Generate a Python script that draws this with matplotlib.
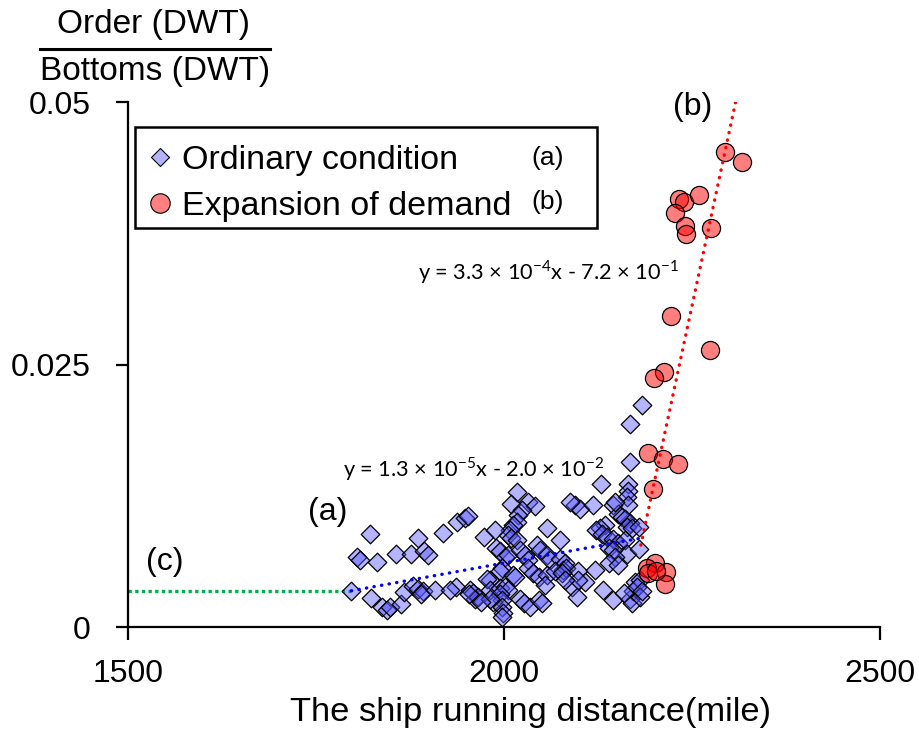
import matplotlib
matplotlib.use('Agg')
import matplotlib.pyplot as plt
from matplotlib.lines import Line2D
from matplotlib.patches import Rectangle

plt.rcParams['font.family'] = ['Liberation Sans', 'DejaVu Sans']

# ordinary condition (a)
ord_x = [1797, 1822, 1805, 1809, 1831, 1856, 1886, 1876, 1894, 1899, 1919, 1937, 1948, 1952,
         1823, 1838, 1844, 1849, 1863, 1867, 1879, 1886, 1892, 1890, 1908, 1936,
         2017, 2009, 2032, 2041, 2024, 2019, 2017, 2012, 2008, 2006, 2010, 2017, 1973, 1988,
         2057, 2075, 2044, 2048, 1990, 1995, 2001, 2006, 2021, 2028, 2032, 2057, 2061, 2075,
         2081, 2079, 1997, 1995, 2012, 2015, 2032, 2039, 2046, 2057, 2055, 1981, 1977, 1928,
         1955, 1959, 1962, 1966, 1953, 1981, 1995, 2001, 2006, 1995, 1997, 1986, 1981, 1997,
         1999, 2021, 2026, 2035, 2046, 2050, 1970, 1997,
         2184, 2168, 2167, 2129, 2165, 2165, 2163, 2165, 2094, 2101, 2119, 2145, 2152, 2157,
         2161, 2168, 2163, 2170, 2134, 2128, 2123, 2130, 2137, 2179, 2145, 2152, 2161, 2163,
         2179, 2139, 2145, 2148, 2083, 2099, 2121, 2139, 2152, 2090, 2108, 2097, 2132, 2145,
         2168, 2172, 2174, 2181, 2177, 2170, 2159, 2148, 2088, 2099, 2068, 2077, 2081, 2181,
         2183]
ord_y = [0.0034, 0.0089, 0.0067, 0.0064, 0.0062, 0.0070, 0.0085, 0.0070, 0.0072, 0.0069,
         0.0090, 0.0100, 0.0104, 0.0106,
         0.0028, 0.0019, 0.0016, 0.0019, 0.0022, 0.0033, 0.0039, 0.0036, 0.0034, 0.0031,
         0.0035, 0.0038,
         0.0129, 0.0117, 0.0119, 0.0115, 0.0111, 0.0107, 0.0100, 0.0097, 0.0092, 0.0088,
         0.0085, 0.0083, 0.0086, 0.0092, 0.0094, 0.0083, 0.0078, 0.0073, 0.0075, 0.0072,
         0.0067, 0.0069, 0.0073, 0.0069, 0.0064, 0.0069, 0.0064, 0.0065, 0.0061, 0.0054,
         0.0056, 0.0053, 0.0050, 0.0048, 0.0056, 0.0051, 0.0048, 0.0050, 0.0040, 0.0045,
         0.0046, 0.0035, 0.0035, 0.0032, 0.0027, 0.0029, 0.0031, 0.0035, 0.0037, 0.0038,
         0.0035, 0.0031, 0.0026, 0.0024, 0.0027, 0.0019, 0.0013, 0.0027, 0.0023, 0.0019,
         0.0026, 0.0023, 0.0024, 0.0010,
         0.0211, 0.0193, 0.0157, 0.0136, 0.0136, 0.0130, 0.0124, 0.0116, 0.0116, 0.0112,
         0.0116, 0.0116, 0.0108, 0.0105, 0.0103, 0.0099, 0.0095, 0.0094, 0.0097, 0.0094,
         0.0092, 0.0089, 0.0086, 0.0095, 0.0084, 0.0080, 0.0083, 0.0070, 0.0074, 0.0075,
         0.0073, 0.0067, 0.0056, 0.0053, 0.0054, 0.0061, 0.0059, 0.0038, 0.0043, 0.0029,
         0.0035, 0.0026, 0.0027, 0.0034, 0.0043, 0.0045, 0.0038, 0.0023, 0.0032, 0.0119,
         0.0119, 0.0045, 0.0053, 0.0051, 0.0045, 0.0029, 0.0034]

# expansion of demand (b)
exp_x = [2294, 2316, 2233, 2239, 2259, 2228, 2241, 2242, 2275, 2222, 2274, 2213, 2200,
         2191, 2212, 2231, 2198, 2201, 2190, 2191, 2215, 2214, 2202]
exp_y = [0.0452, 0.0443, 0.0408, 0.0405, 0.0411, 0.0394, 0.0382, 0.0374, 0.0380, 0.0296,
         0.0264, 0.0243, 0.0237, 0.0166, 0.0160, 0.0155, 0.0131, 0.0061, 0.0056, 0.0051,
         0.0052, 0.0041, 0.0053]

# trend lines as drawn
fit_a_x = [1797, 2181]
fit_a_y = [0.00345, 0.00845]
fit_b_x = [2182, 2308]
fit_b_y = [0.0078, 0.0500]
fit_c_x = [1500, 1797]
fit_c_y = [0.00345, 0.00345]

fig = plt.figure(figsize=(9.2, 7.33), dpi=100)
ax = fig.add_axes([0.1391, 0.1446, 0.8174, 0.7162])

ax.plot(fit_c_x, fit_c_y, color='#00b050', lw=2.4, ls=(0, (1, 1)), zorder=1)
ax.scatter(ord_x, ord_y, marker='D', s=90, facecolors=[(0.35, 0.35, 1.0, 0.45)],
           edgecolors='black', linewidths=0.9, zorder=2, clip_on=False)
ax.scatter(exp_x, exp_y, marker='o', s=170, facecolors=[(1.0, 0.0, 0.0, 0.5)],
           edgecolors='black', linewidths=0.9, zorder=3, clip_on=False)
ax.plot(fit_a_x, fit_a_y, color='#0000ff', lw=2.4, ls=(0, (0.1, 2.2)),
        dash_capstyle='round', zorder=4)
ax.plot(fit_b_x, fit_b_y, color='#ff0000', lw=2.4, ls=(0, (0.1, 2.2)),
        dash_capstyle='round', zorder=4)

ax.set_xlim(1500, 2500)
ax.set_ylim(0, 0.05)
ax.set_xticks([1500, 2000, 2500])
ax.set_yticks([0, 0.025, 0.05])
ax.set_yticklabels(['0', '0.025', '0.05'])
for s in ['top', 'right']:
    ax.spines[s].set_visible(False)
for s in ['left', 'bottom']:
    ax.spines[s].set_linewidth(1.6)
ax.tick_params(direction='out', length=9, width=1.6, labelsize=23)
ax.tick_params(axis='y', pad=18)
ax.tick_params(axis='x', pad=14)
ax.set_xlabel('The ship running distance(mile)', fontsize=24.8)
ax.xaxis.set_label_coords(0.535, -0.133)

# fraction-style y label
fig.text(0.167, 0.966, 'Order (DWT)', fontsize=24, ha='center', va='center')
fig.text(0.169, 0.902, 'Bottoms (DWT)', fontsize=24, ha='center', va='center')
fig.add_artist(Line2D([0.0435, 0.293], [0.933, 0.933], color='black', lw=2.2,
                      transform=fig.transFigure))

# legend with its own box
ax.add_patch(Rectangle((0.0093, 0.76), 0.614, 0.1924, transform=ax.transAxes,
                       facecolor='white', edgecolor='black', lw=1.8, zorder=5))
handles = [Line2D([], [], marker='D', ls='none', ms=9.5, markerfacecolor='#b3b3ff',
                  markeredgecolor='black', markeredgewidth=0.8),
           Line2D([], [], marker='o', ls='none', ms=14, markerfacecolor='#ff8080',
                  markeredgecolor='black', markeredgewidth=0.8)]
leg = ax.legend(handles, ['Ordinary condition', 'Expansion of demand'],
                loc='upper left', bbox_to_anchor=(0.009, 0.95),
                fontsize=24.5, frameon=False,
                handlelength=0.5, handletextpad=0.4, borderpad=0.5,
                labelspacing=0.42, borderaxespad=0)
leg.set_zorder(6)
ax.text(0.537, 0.893, '(a)', transform=ax.transAxes, fontsize=19, va='center', zorder=6)
ax.text(0.537, 0.8095, '(b)', transform=ax.transAxes, fontsize=19, va='center', zorder=6)

ax.text(1765, 0.0110, '(a)', fontsize=23, ha='center', va='center')
ax.text(2251, 0.0495, '(b)', fontsize=23, ha='center', va='center')
ax.text(1549, 0.0062, '(c)', fontsize=23, ha='center', va='center')

eq_font = ['Lato', 'DejaVu Sans']
ax.text(1886, 0.0338, 'y = 3.3 \u00d7 10$^{\\mathregular{-4}}$x - 7.2 \u00d7 10$^{\\mathregular{-1}}$',
        fontsize=15.7, family=eq_font, va='center')
ax.text(1786, 0.0150, 'y = 1.3 \u00d7 10$^{\\mathregular{-5}}$x - 2.0 \u00d7 10$^{\\mathregular{-2}}$',
        fontsize=15.7, family=eq_font, va='center')

fig.savefig('out.png', dpi=100)
